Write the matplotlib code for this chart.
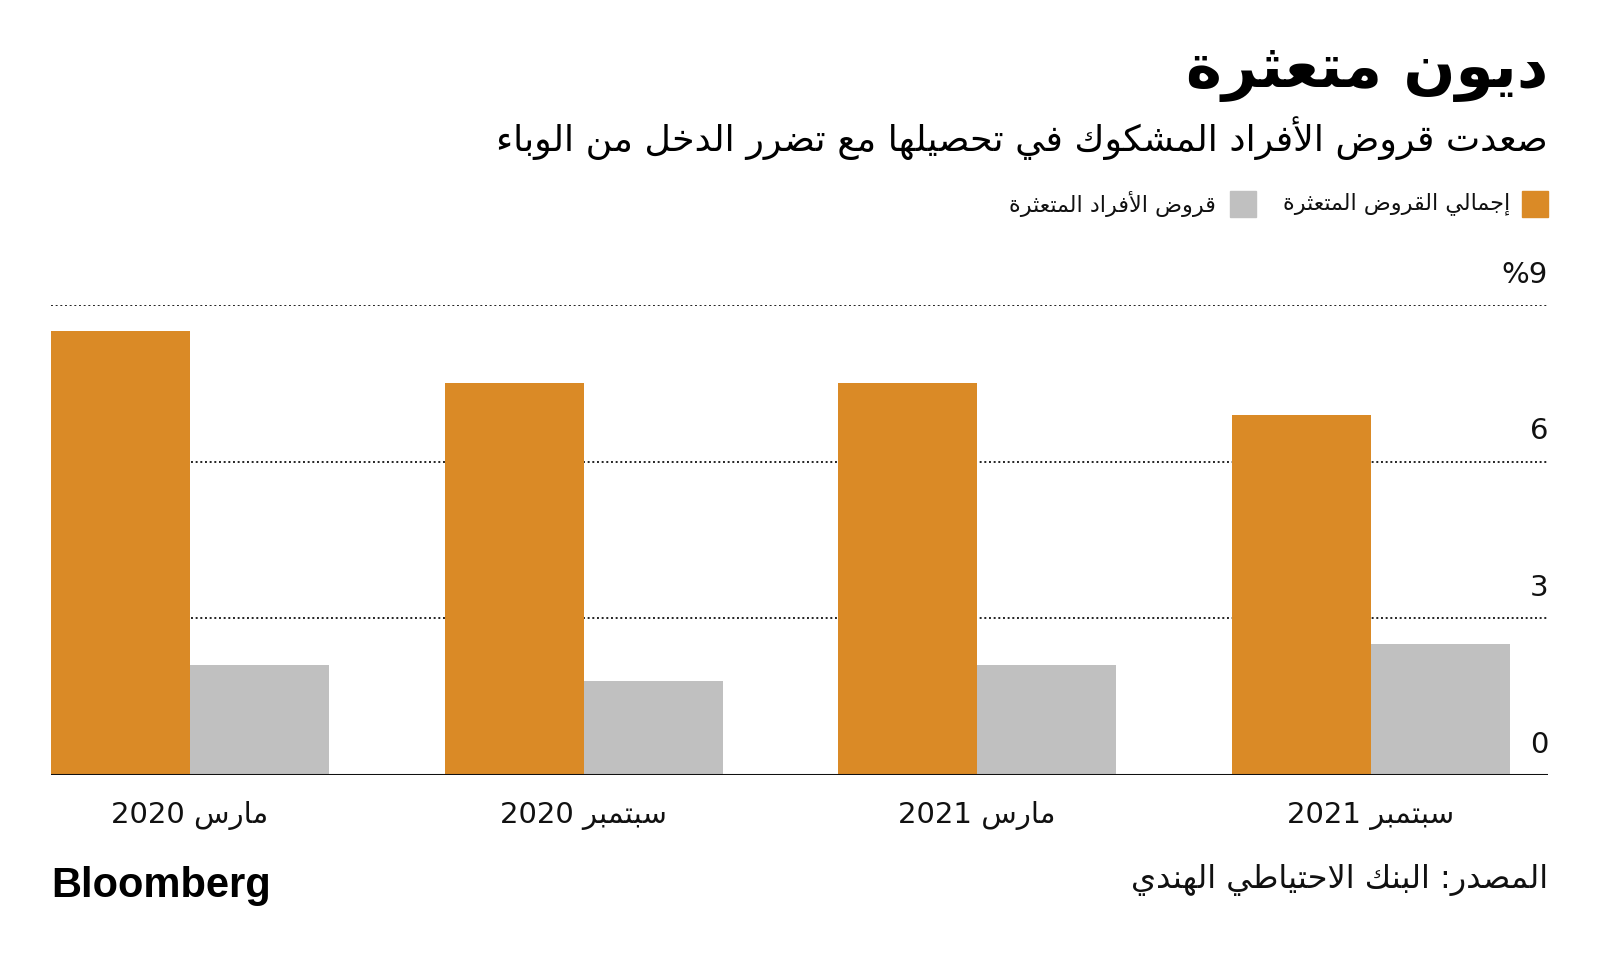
import matplotlib
matplotlib.use("Agg")
import matplotlib.pyplot as plt
import numpy as np

# Datos (en %)
periodos = ["مارس 2020", "سبتمبر 2020", "مارس 2021", "سبتمبر 2021"]
total_npa = [8.5, 7.5, 7.5, 6.9]
individuos_npa = [2.1, 1.8, 2.1, 2.5]
ticks_y = [0, 3, 6, 9]
etiquetas_y = ["0", "3", "6", "%9"]

titulo = "ديون متعثرة"
subtitulo = "صعدت قروض الأفراد المشكوك في تحصيلها مع تضرر الدخل من الوباء"
leyenda_total = "إجمالي القروض المتعثرة"
leyenda_ind = "قروض الأفراد المتعثرة"
fuente = "المصدر: البنك الاحتياطي الهندي"

NARANJA = "#DA8A26"
GRIS = "#C0C0C0"

# Formas de presentacion arabes: (aislada, final, inicial, medial)
FORMAS = {
    "ء": (0xFE80,), "آ": (0xFE81, 0xFE82), "أ": (0xFE83, 0xFE84),
    "ؤ": (0xFE85, 0xFE86), "إ": (0xFE87, 0xFE88), "ئ": (0xFE89, 0xFE8A, 0xFE8B, 0xFE8C),
    "ا": (0xFE8D, 0xFE8E), "ب": (0xFE8F, 0xFE90, 0xFE91, 0xFE92),
    "ة": (0xFE93, 0xFE94), "ت": (0xFE95, 0xFE96, 0xFE97, 0xFE98),
    "ث": (0xFE99, 0xFE9A, 0xFE9B, 0xFE9C), "ج": (0xFE9D, 0xFE9E, 0xFE9F, 0xFEA0),
    "ح": (0xFEA1, 0xFEA2, 0xFEA3, 0xFEA4), "خ": (0xFEA5, 0xFEA6, 0xFEA7, 0xFEA8),
    "د": (0xFEA9, 0xFEAA), "ذ": (0xFEAB, 0xFEAC), "ر": (0xFEAD, 0xFEAE),
    "ز": (0xFEAF, 0xFEB0), "س": (0xFEB1, 0xFEB2, 0xFEB3, 0xFEB4),
    "ش": (0xFEB5, 0xFEB6, 0xFEB7, 0xFEB8), "ص": (0xFEB9, 0xFEBA, 0xFEBB, 0xFEBC),
    "ض": (0xFEBD, 0xFEBE, 0xFEBF, 0xFEC0), "ط": (0xFEC1, 0xFEC2, 0xFEC3, 0xFEC4),
    "ظ": (0xFEC5, 0xFEC6, 0xFEC7, 0xFEC8), "ع": (0xFEC9, 0xFECA, 0xFECB, 0xFECC),
    "غ": (0xFECD, 0xFECE, 0xFECF, 0xFED0), "ف": (0xFED1, 0xFED2, 0xFED3, 0xFED4),
    "ق": (0xFED5, 0xFED6, 0xFED7, 0xFED8), "ك": (0xFED9, 0xFEDA, 0xFEDB, 0xFEDC),
    "ل": (0xFEDD, 0xFEDE, 0xFEDF, 0xFEE0), "م": (0xFEE1, 0xFEE2, 0xFEE3, 0xFEE4),
    "ن": (0xFEE5, 0xFEE6, 0xFEE7, 0xFEE8), "ه": (0xFEE9, 0xFEEA, 0xFEEB, 0xFEEC),
    "و": (0xFEED, 0xFEEE), "ى": (0xFEEF, 0xFEF0), "ي": (0xFEF1, 0xFEF2, 0xFEF3, 0xFEF4),
    # lam-alef
    "لآ": (0xFEF5, 0xFEF6), "لأ": (0xFEF7, 0xFEF8), "لإ": (0xFEF9, 0xFEFA), "لا": (0xFEFB, 0xFEFC),
}


def dar_forma(s):
    # agrupar lam-alef
    unidades = []
    i = 0
    while i < len(s):
        if s[i] == "ل" and i + 1 < len(s) and s[i:i + 2] in FORMAS:
            unidades.append(s[i:i + 2])
            i += 2
        else:
            unidades.append(s[i])
            i += 1
    salida = []
    for k, u in enumerate(unidades):
        if u not in FORMAS:
            salida.append(u)
            continue
        f = FORMAS[u]
        prev = unidades[k - 1] if k > 0 else None
        sig = unidades[k + 1] if k + 1 < len(unidades) else None
        une_prev = prev in FORMAS and len(FORMAS[prev]) == 4 and len(f) >= 2
        une_sig = len(f) == 4 and sig in FORMAS and len(FORMAS[sig]) >= 2
        if une_prev and une_sig:
            c = f[3]
        elif une_prev:
            c = f[1]
        elif une_sig:
            c = f[2]
        else:
            c = f[0]
        salida.append(chr(c))
    return "".join(salida)


def rtl(s):
    palabras = dar_forma(s).split(" ")
    visual = []
    for p in palabras:
        if any(0xFE70 <= ord(c) <= 0xFEFF for c in p):
            p = p[::-1]
        visual.append(p)
    return " ".join(visual[::-1])


plt.rcParams["font.family"] = ["DejaVu Sans"]

fig = plt.figure(figsize=(16, 9.64), dpi=100)
ax = fig.add_axes([51 / 1600, 1 - 775 / 964, (1548 - 51) / 1600, (775 - 305) / 964])

x = np.arange(len(periodos))
ancho = 0.353
ax.bar(x - ancho / 2, total_npa, ancho, color=NARANJA, zorder=2)
ax.bar(x + ancho / 2, individuos_npa, ancho, color=GRIS, zorder=2)

ax.set_xlim(-0.353, 3.45)
ax.set_ylim(0, 9)

for v in ticks_y[1:]:
    ax.axhline(v, color="#222222", lw=1.4, ls=(0, (1, 1.4)), zorder=1)
ax.axhline(0, color="#111111", lw=2.2, zorder=3)

for v, et in zip(ticks_y, etiquetas_y):
    ax.annotate(et, xy=(1, v), xycoords=("axes fraction", "data"),
                xytext=(0, 16), textcoords="offset points",
                ha="right", va="baseline", fontsize=21, color="#111111")

for xi, p in zip(x, periodos):
    ax.text(xi, -0.78, rtl(p), ha="center", va="center", fontsize=21, color="#111111")

for s in ax.spines.values():
    s.set_visible(False)
ax.set_xticks([])
ax.set_yticks([])

# Textos de cabecera
fig.text(1548 / 1600, 1 - 72 / 964, rtl(titulo), ha="right", va="center",
         fontsize=44, fontweight="bold", color="#000000")
fig.text(1548 / 1600, 1 - 138 / 964, rtl(subtitulo), ha="right", va="center",
         fontsize=26.2, color="#000000")

# Leyenda
fig.patches.append(plt.Rectangle((1522 / 1600, 1 - 217 / 964), 26 / 1600, 26 / 964,
                                 transform=fig.transFigure, color=NARANJA))
fig.text(1510 / 1600, 1 - 204 / 964, rtl(leyenda_total), ha="right", va="center",
         fontsize=16, color="#111111")
fig.patches.append(plt.Rectangle((1230 / 1600, 1 - 217 / 964), 26 / 1600, 26 / 964,
                                 transform=fig.transFigure, color=GRIS))
fig.text(1216 / 1600, 1 - 204 / 964, rtl(leyenda_ind), ha="right", va="center",
         fontsize=16, color="#111111")

# Pie
fig.text(51 / 1600, 1 - 886 / 964, "Bloomberg", ha="left", va="center",
         fontsize=30, fontweight="bold", family="Liberation Sans", color="#000000")
fig.text(1548 / 1600, 1 - 880 / 964, rtl(fuente), ha="right", va="center",
         fontsize=23, color="#111111")

fig.savefig("out.png", dpi=100, facecolor="white")
